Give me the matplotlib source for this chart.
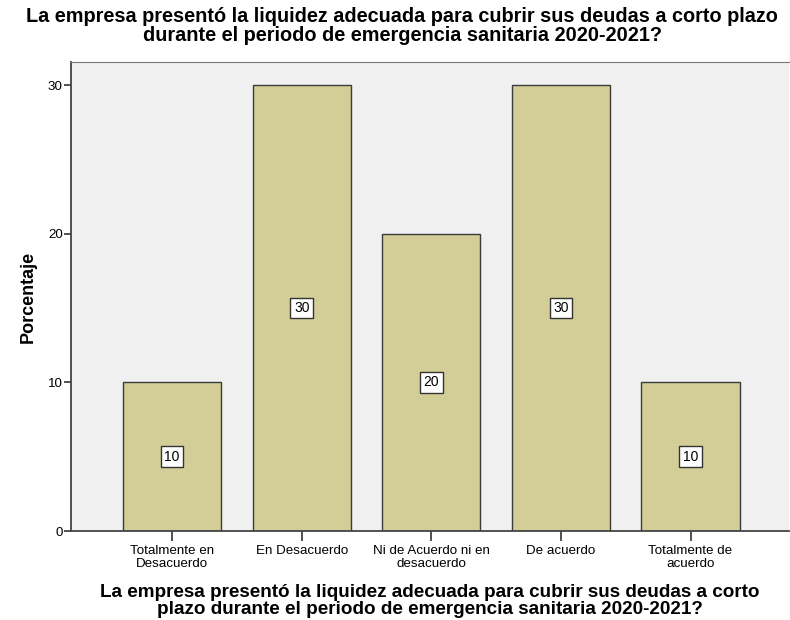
import numpy as np
import matplotlib
matplotlib.use("Agg")
import matplotlib.pyplot as plt

plt.rcParams['font.family'] = ['Liberation Sans', 'DejaVu Sans']

# datos
categorias = ["Totalmente en\nDesacuerdo", "En Desacuerdo", "Ni de Acuerdo ni en\ndesacuerdo",
              "De acuerdo", "Totalmente de\nacuerdo"]
porcentajes = [10, 30, 20, 30, 10]
yticks = [0, 10, 20, 30]
titulo = "La empresa presentó la liquidez adecuada para cubrir sus deudas a corto plazo\ndurante el periodo de emergencia sanitaria 2020-2021?"
xlabel = "La empresa presentó la liquidez adecuada para cubrir sus deudas a corto\nplazo durante el periodo de emergencia sanitaria 2020-2021?"

fig = plt.figure(figsize=(7.9, 6.2), dpi=100)
ax = fig.add_axes([71/790, 1 - 531/620, (789 - 71)/790, (531 - 62)/620])
ax.set_facecolor("#F0F0F0")

x = np.arange(len(categorias))
ax.bar(x, porcentajes, width=0.757, color="#D3CE97", edgecolor="#3a3a3a", linewidth=1.0, zorder=2)

# etiquetas con caja blanca en el centro de cada barra
for xi, v in zip(x, porcentajes):
    ax.text(xi, v / 2, str(v), ha="center", va="center", fontsize=10, zorder=3,
            bbox=dict(boxstyle="square,pad=0.25", facecolor="white", edgecolor="#333333", linewidth=1.0))

ax.set_xlim(-0.78, 4.76)
ax.set_ylim(0, 31.55)
ax.set_yticks(yticks)
ax.set_xticks(x)
ax.set_xticklabels(categorias, fontsize=9.6, linespacing=1.1)
ax.tick_params(axis="y", labelsize=9.6, length=5, width=1.2, color="#333333", pad=1)
ax.tick_params(axis="x", length=7, width=1.2, color="#333333", pad=3)

for s in ["left", "bottom"]:
    ax.spines[s].set_color("#444444")
    ax.spines[s].set_linewidth(1.3)
ax.spines["top"].set_color("#777777")
ax.spines["right"].set_visible(False)

ax.set_ylabel("Porcentaje", fontsize=13, fontweight="bold", labelpad=8)
ax.set_xlabel(xlabel, fontsize=13.6, fontweight="bold", labelpad=10, linespacing=1.0)
fig.text(402/790, 1 - 26/620, titulo, ha="center", va="center", fontsize=14.3,
         fontweight="bold", linespacing=0.95)

fig.savefig("out.png", dpi=100)
